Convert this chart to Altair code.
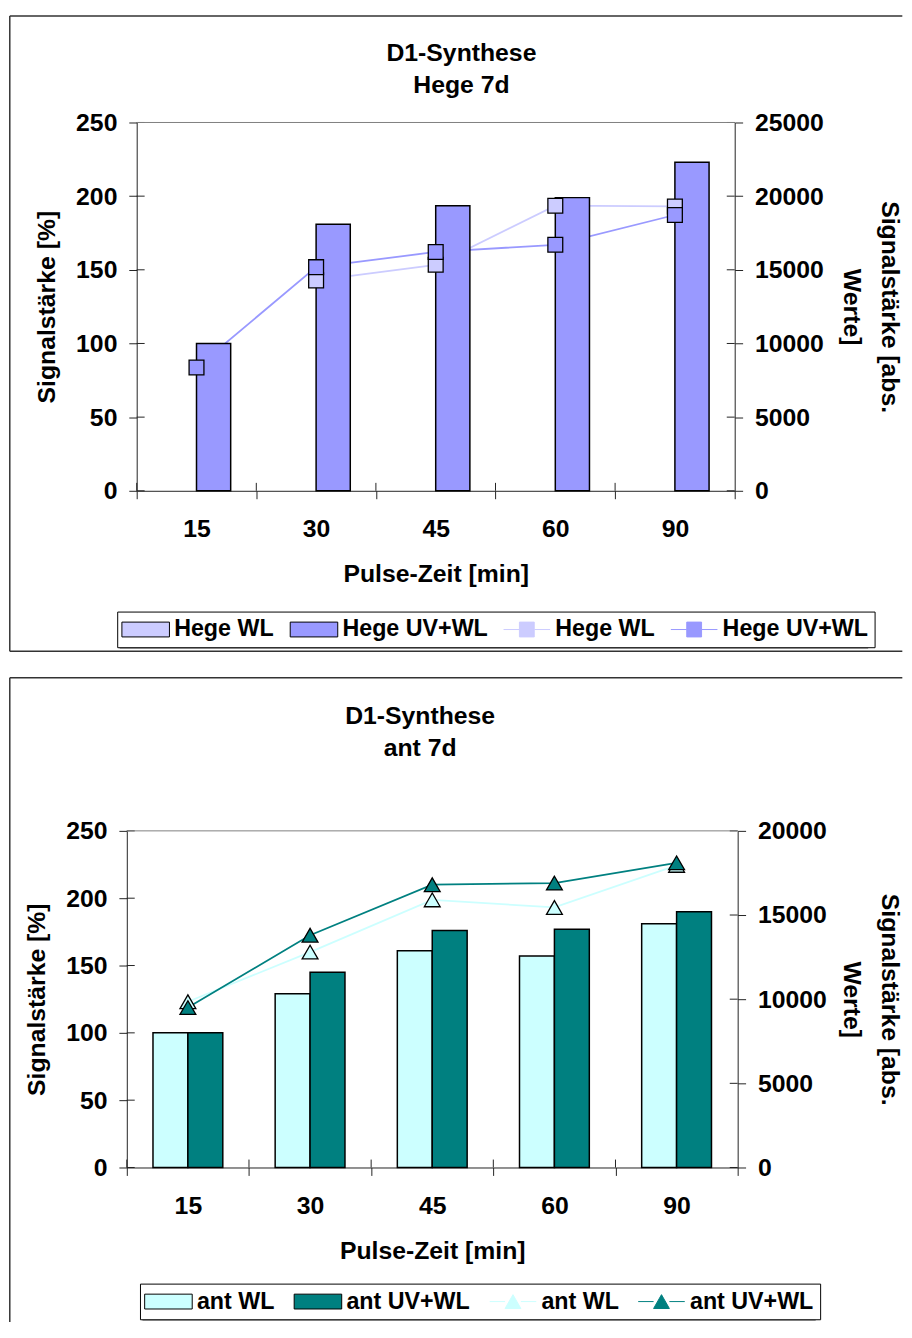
import altair as alt
import pandas as pd

# ---------------- data ----------------
cats = ["15", "30", "45", "60", "90"]
series = ["WL", "UV+WL"]

hege_bar_wl = [None, None, None, None, None]
hege_bar_uvwl = [100, 181, 193.5, 199, 223]
hege_abs_wl = [None, 14280, 15340, 19350, 19300]
hege_abs_uvwl = [8370, 15180, 16210, 16700, 18720]

ant_bar_wl = [100, 129, 161, 157, 181]
ant_bar_uvwl = [100, 145, 176, 177, 190]
ant_abs_wl = [9850, 12800, 15900, 15450, 17950]
ant_abs_uvwl = [9500, 13800, 16800, 16900, 18100]

hege_colors = ["#CCCCFF", "#9999FF"]
ant_colors = ["#CCFFFF", "#008080"]

hege_title = ["D1-Synthese", "Hege 7d"]
ant_title = ["D1-Synthese", "ant 7d"]
hege_legend = ["Hege WL", "Hege UV+WL", "Hege WL", "Hege UV+WL"]
ant_legend = ["ant WL", "ant UV+WL", "ant WL", "ant UV+WL"]

left_ticks = [0, 50, 100, 150, 200, 250]
hege_right_ticks = [0, 5000, 10000, 15000, 20000, 25000]
ant_right_ticks = [0, 5000, 10000, 15000, 20000]

x_title = "Pulse-Zeit [min]"
left_title = "Signalstärke [%]"
right_title = ["Signalstärke [abs.", "Werte]"]

FONT = "Liberation Sans"
BOX = "#333333"
AX = "#222222"
FS = 25

# legend symbol paths (unit space, scaled by sqrt(symbolSize)/2 = 7px)
SWATCH = "M-3.43,-1.07H3.43V1.07H-3.43Z"
LINE_SQ = "M-3.36,0H-1.07M1.07,0H3.36M-1.07,-1.07H1.07V1.07H-1.07Z"
LINE_TRI = "M-3.36,0H-1.14M1.14,0H3.36M0,-1L1.14,1H-1.14Z"

one = alt.Data(values=[{"k": 0}])

RES = dict(x="independent", y="independent", color="independent",
           fill="independent", stroke="independent", shape="independent",
           xOffset="independent")
RESL = dict(color="independent", fill="independent", stroke="independent",
            shape="independent")


def panel(bar_wl, bar_uv, abs_wl, abs_uv, colors, legend_labels, title_lines,
          right_ticks, x0, width, height, marker, marker_size, line_path,
          legend_xy, legend_pad, legend_size, title_pos, box, right_title_x,
          bottom_line):
    bar_df = pd.DataFrame({
        "cat": cats * 2,
        "series": ["WL"] * 5 + ["UV+WL"] * 5,
        "value": list(bar_wl) + list(bar_uv),
    }).dropna()
    line_df = pd.DataFrame({
        "cat": cats * 2,
        "series": ["WL"] * 5 + ["UV+WL"] * 5,
        "value": list(abs_wl) + list(abs_uv),
    })
    rmax = right_ticks[-1]
    lscale = alt.Scale(domain=[0, 250], nice=False)
    rscale = alt.Scale(domain=[0, rmax], nice=False)

    x_axis = alt.Axis(title=x_title, labelAngle=0, tickBand="extent",
                      labelBaseline="middle", labelPadding=30,
                      titleX=(x0 + width) / 2, titleY=84, titleAlign="center",
                      titleBaseline="middle")
    xscale = alt.Scale(paddingInner=0, paddingOuter=0, range=[x0, width])
    x_enc = alt.X("cat:N", sort=cats, scale=xscale, axis=x_axis)
    col = alt.Color("series:N", scale=alt.Scale(domain=series, range=colors),
                    legend=None)

    left_axis = alt.Axis(orient="left", values=left_ticks, title=left_title,
                         offset=-x0, labelPadding=12, titleAngle=270,
                         titleX=-91.5, titleY=height / 2, titleAlign="center",
                         titleBaseline="middle")
    right_axis = alt.Axis(orient="right", values=right_ticks, format="d",
                          title=right_title, labelPadding=12, titleAngle=90,
                          titleX=right_title_x, titleY=height / 2,
                          titleAlign="center", titleBaseline="middle",
                          titleLineHeight=38)

    lines = alt.Chart(line_df).mark_line(strokeWidth=1.8).encode(
        x=x_enc,
        y=alt.Y("value:Q", scale=rscale, axis=right_axis),
        color=col,
    )
    bars = alt.Chart(bar_df).mark_bar(stroke="black", strokeWidth=1.5).encode(
        x=x_enc,
        xOffset=alt.XOffset("series:N", scale=alt.Scale(
            domain=series, paddingInner=0, paddingOuter=0.75)),
        y=alt.Y("value:Q", scale=lscale, axis=left_axis),
        color=col,
    )
    points = alt.Chart(line_df).mark_point(
        filled=True, shape=marker, size=marker_size, stroke="black",
        strokeWidth=1.3, opacity=1).encode(
        x=x_enc,
        y=alt.Y("value:Q", scale=rscale, axis=None),
        color=col,
    )

    # inner halves of the crossing tick marks
    tick_x = alt.Chart(pd.DataFrame({"cat": cats})).mark_rule(
        color=AX, strokeWidth=1).encode(
        x=alt.X("cat:N", sort=cats, scale=xscale, axis=x_axis, bandPosition=0),
        y=alt.value(height - 8), y2=alt.value(height))
    tick_l = alt.Chart(pd.DataFrame({"v": left_ticks})).mark_rule(
        color=AX, strokeWidth=1).encode(
        y=alt.Y("v:Q", scale=lscale, axis=None),
        x=alt.value(x0), x2=alt.value(x0 + 8))
    tick_r = alt.Chart(pd.DataFrame({"v": right_ticks})).mark_rule(
        color=AX, strokeWidth=1).encode(
        y=alt.Y("v:Q", scale=rscale, axis=None),
        x=alt.value(width - 8), x2=alt.value(width))

    entries = [f"{lab}|{i}" for i, lab in enumerate(legend_labels)]
    lx, ly = legend_xy
    lw, lh = legend_size
    leg = alt.Legend(orient="none", legendX=lx, legendY=ly,
                     direction="horizontal", columns=4, title=None,
                     labelExpr="split(datum.label, '|')[0]",
                     symbolSize=196, symbolOffset=11, labelOffset=17,
                     columnPadding=legend_pad, symbolOpacity=1)
    legend_layer = alt.Chart(pd.DataFrame({"entry": entries})).mark_point(
        filled=True, opacity=1).encode(
        fill=alt.Fill("entry:N", scale=alt.Scale(
            domain=entries, range=[colors[0], colors[1], colors[0], colors[1]]),
            legend=leg),
        stroke=alt.Stroke("entry:N", scale=alt.Scale(
            domain=entries, range=["black", "black", colors[0], colors[1]]),
            legend=leg),
        shape=alt.Shape("entry:N", scale=alt.Scale(
            domain=entries, range=[SWATCH, SWATCH, line_path, line_path]),
            legend=leg),
    ).transform_filter("false")

    bx0, by0, by1, bx1 = box
    deco = []
    # legend drop shadow
    deco.append(alt.Chart(one).mark_rect(fill="#8c8c8c").encode(
        x=alt.value(lx + 2.5), x2=alt.value(lx + lw + 2.5),
        y=alt.value(ly + 2.5), y2=alt.value(ly + lh + 2.5)))
    # plot-area frame (top edge; the other edges are the axis lines)
    deco.append(alt.Chart(one).mark_rule(color="#808080", strokeWidth=1).encode(
        x=alt.value(x0), x2=alt.value(width), y=alt.value(0)))
    deco.append(alt.Chart(one).mark_rule(color=BOX, strokeWidth=1.5).encode(
        x=alt.value(bx0), y=alt.value(by0), y2=alt.value(by1)))
    deco.append(alt.Chart(one).mark_rule(color=BOX, strokeWidth=1.5).encode(
        x=alt.value(bx0), x2=alt.value(bx1), y=alt.value(by0)))
    if bottom_line:
        deco.append(alt.Chart(one).mark_rule(color=BOX, strokeWidth=1.5).encode(
            x=alt.value(bx0), x2=alt.value(bx1), y=alt.value(by1)))
    tx, (ty1, ty2) = title_pos
    for txt, ty in zip(title_lines, [ty1, ty2]):
        deco.append(alt.Chart(one).mark_text(
            font=FONT, fontWeight="bold", fontSize=FS, align="center",
            baseline="alphabetic", color="black").encode(
            x=alt.value(tx), y=alt.value(ty), text=alt.value(txt)))

    return alt.layer(lines, bars, points, tick_x, tick_l, tick_r,
                     legend_layer, *deco).resolve_scale(
        y="independent").properties(width=width, height=height)


top = panel(hege_bar_wl, hege_bar_uvwl, hege_abs_wl, hege_abs_uvwl, hege_colors,
            hege_legend, hege_title, hege_right_ticks, 10, 614, 372, "square",
            225, LINE_SQ, (-9.7, 494), 13, (756, 35), (338, (-62.5, -30)),
            (-118.2, -107.5, 534, 783.3), 156, True)
bottom = panel(ant_bar_wl, ant_bar_uvwl, ant_abs_wl, ant_abs_uvwl, ant_colors,
               ant_legend, ant_title, ant_right_ticks, 0, 617, 340,
               "triangle-up", 256, LINE_TRI, (13.3, 457.3), 17, (680, 35),
               (296.3, (-108.2, -75.2)),
               (-118.2, -154.7, 496, 783.3), 153, False)

chart = alt.vconcat(top, bottom, spacing=23.5).resolve_scale(
    **RES).resolve_legend(**RESL).resolve_axis(
    x="independent", y="independent").properties(
    padding=0, background="white"
).configure_view(stroke="transparent").configure_axis(
    labelFont=FONT, labelFontSize=FS, labelFontWeight="bold", labelColor="black",
    titleFont=FONT, titleFontSize=FS, titleFontWeight="bold", titleColor="black",
    domainColor=AX, tickColor=AX, tickSize=8, grid=False,
).configure_legend(
    strokeColor="black", padding=6, labelFont=FONT, labelFontSize=23.5,
    labelFontWeight="bold", labelColor="black", symbolStrokeWidth=1,
    fillColor="white",
)

chart.save("out.html", embed_options={"renderer": "svg", "actions": False})
